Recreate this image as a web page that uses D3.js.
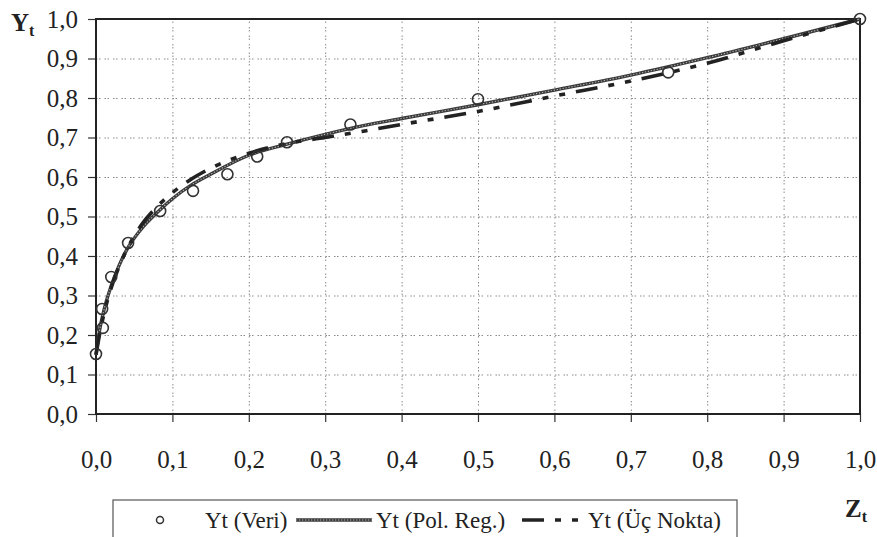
<!DOCTYPE html>
<html>
<head>
<meta charset="utf-8">
<script src="https://cdnjs.cloudflare.com/ajax/libs/d3/7.8.5/d3.min.js"></script>
<style>
  body { margin: 0; background: #fff; }
  svg text { fill: #222; font-family: "Liberation Serif", "Times New Roman", "DejaVu Serif", serif; }
  .tick > line { stroke: #333; stroke-width: 1.2; }
  .grid .tick > line { stroke: #8a8a8a; stroke-width: 1; stroke-dasharray: 1.5,1.5,1.5,4; }
  path.domain { stroke: none; fill: none; }
</style>
</head>
<body>
<svg width="877" height="537"></svg>
<script>
// tick values (labels use comma as decimal sign)
var tickValues = [0, 0.1, 0.2, 0.3, 0.4, 0.5, 0.6, 0.7, 0.8, 0.9, 1.0];

// Yt (Veri) - measured points
var veriZ = [0, 0.008, 0.009, 0.02, 0.042, 0.084, 0.127, 0.172, 0.211, 0.25, 0.333, 0.5, 0.749, 1.0];
var veriY = [0.152, 0.266, 0.218, 0.347, 0.433, 0.514, 0.565, 0.607, 0.652, 0.688, 0.733, 0.797, 0.865, 1.0];

// Yt (Pol. Reg.)
var polZ = [0, 0.005, 0.01, 0.02, 0.03, 0.04, 0.06, 0.08, 0.1, 0.125, 0.15, 0.2, 0.25, 0.3, 0.35, 0.4, 0.5, 0.6, 0.7, 0.8, 0.9, 1.0];
var polY = [0.15, 0.215, 0.26, 0.325, 0.375, 0.415, 0.47, 0.51, 0.545, 0.58, 0.607, 0.655, 0.683, 0.708, 0.73, 0.748, 0.783, 0.82, 0.858, 0.902, 0.95, 1.0];

// Yt (Üç Nokta)
var ucZ = [0, 0.005, 0.01, 0.02, 0.03, 0.04, 0.06, 0.08, 0.1, 0.125, 0.15, 0.2, 0.25, 0.3, 0.35, 0.4, 0.5, 0.6, 0.7, 0.8, 0.9, 1.0];
var ucY = [0.15, 0.205, 0.25, 0.32, 0.372, 0.415, 0.48, 0.525, 0.56, 0.595, 0.622, 0.66, 0.685, 0.7, 0.716, 0.733, 0.766, 0.805, 0.843, 0.888, 0.945, 1.0];

var legendLabels = ["Yt (Veri)", "Yt (Pol. Reg.)", "Yt (Üç Nokta)"];

var serif = '"Liberation Serif", "Times New Roman", "DejaVu Serif", serif';
var svg = d3.select("svg");
var fmt = d3.formatLocale({ decimal: ",", thousands: ".", grouping: [3], currency: ["", ""] }).format(".1f");

var xScale = d3.scaleLinear().domain([0, 1]).range([96, 860]);
var yScale = d3.scaleLinear().domain([0, 1]).range([414, 19]);

// grid
var inner = tickValues.slice(1, -1);
svg.append("g").attr("class", "grid")
  .attr("transform", "translate(0,414)")
  .call(d3.axisBottom(xScale).tickValues(inner).tickSize(-395).tickFormat(""));
svg.append("g").attr("class", "grid")
  .attr("transform", "translate(96,0)")
  .call(d3.axisLeft(yScale).tickValues(inner).tickSize(-764).tickFormat(""));

// axes
var xAxis = d3.axisBottom(xScale).tickValues(tickValues).tickSize(8).tickPadding(28).tickFormat(fmt);
svg.append("g").attr("transform", "translate(0,414)").call(xAxis)
  .attr("font-family", serif).attr("font-size", 25);

var yAxis = d3.axisLeft(yScale).tickValues(tickValues).tickSize(8).tickPadding(10).tickFormat(fmt);
svg.append("g").attr("transform", "translate(96,0)").call(yAxis)
  .attr("font-family", serif).attr("font-size", 25);

// frame
svg.append("rect")
  .attr("x", xScale(0)).attr("y", yScale(1))
  .attr("width", xScale(1) - xScale(0)).attr("height", yScale(0) - yScale(1))
  .attr("fill", "none").attr("stroke", "#222").attr("stroke-width", 2);

var polData = polZ.map(function (z, i) { return [z, polY[i]]; });
var ucData = ucZ.map(function (z, i) { return [z, ucY[i]]; });

var line = d3.line()
  .x(function (d) { return xScale(d[0]); })
  .y(function (d) { return yScale(d[1]); })
  .curve(d3.curveMonotoneX);

// solid curve, drawn as a dark band with a light beaded core
svg.append("path").attr("d", line(polData))
  .attr("fill", "none").attr("stroke", "#3a3a3a").attr("stroke-width", 3.4);
svg.append("path").attr("d", line(polData))
  .attr("fill", "none").attr("stroke", "#b5b5b5").attr("stroke-width", 1.1)
  .attr("stroke-dasharray", "1.3,1.7");

// dashed curve
svg.append("path").attr("d", line(ucData))
  .attr("fill", "none").attr("stroke", "#222").attr("stroke-width", 3.6)
  .attr("stroke-dasharray", "22,11,6,11,6,11");

// points
svg.selectAll("circle.veri")
  .data(veriZ.map(function (z, i) { return [z, veriY[i]]; }))
  .enter().append("circle")
    .attr("class", "veri")
    .attr("cx", function (d) { return xScale(d[0]); })
    .attr("cy", function (d) { return yScale(d[1]); })
    .attr("r", 5.5)
    .attr("fill", "none")
    .attr("stroke", "#333")
    .attr("stroke-width", 1.6);

// axis titles
var yt = svg.append("text").attr("x", 11).attr("y", 31)
  .style("font-family", serif).style("font-size", "25px").style("font-weight", "bold");
yt.append("tspan").text("Y");
yt.append("tspan").attr("dy", 5).style("font-size", "16px").text("t");

var zt = svg.append("text").attr("x", 845).attr("y", 517)
  .style("font-family", serif).style("font-size", "25px").style("font-weight", "bold");
zt.append("tspan").text("Z");
zt.append("tspan").attr("dy", 5).style("font-size", "16px").text("t");

// legend
var lg = svg.append("g").style("font-family", serif).style("font-size", "23px");
lg.append("rect").attr("x", 113).attr("y", 500).attr("width", 624).attr("height", 60)
  .attr("fill", "none").attr("stroke", "#555").attr("stroke-width", 1.2);
lg.append("circle").attr("cx", 160).attr("cy", 520).attr("r", 3.5)
  .attr("fill", "none").attr("stroke", "#333").attr("stroke-width", 1.5);
lg.append("text").attr("x", 205).attr("y", 528).text(legendLabels[0]);
lg.append("line").attr("x1", 296).attr("x2", 372).attr("y1", 520).attr("y2", 520)
  .attr("stroke", "#3a3a3a").attr("stroke-width", 3.4);
lg.append("line").attr("x1", 296).attr("x2", 372).attr("y1", 520).attr("y2", 520)
  .attr("stroke", "#b5b5b5").attr("stroke-width", 1.1).attr("stroke-dasharray", "1.3,1.7");
lg.append("text").attr("x", 376).attr("y", 528).text(legendLabels[1]);
lg.append("line").attr("x1", 522).attr("x2", 582).attr("y1", 520).attr("y2", 520)
  .attr("stroke", "#222").attr("stroke-width", 3.6).attr("stroke-dasharray", "22,11,6,11,6,11");
lg.append("text").attr("x", 588).attr("y", 528).text(legendLabels[2]);
</script>
</body>
</html>
